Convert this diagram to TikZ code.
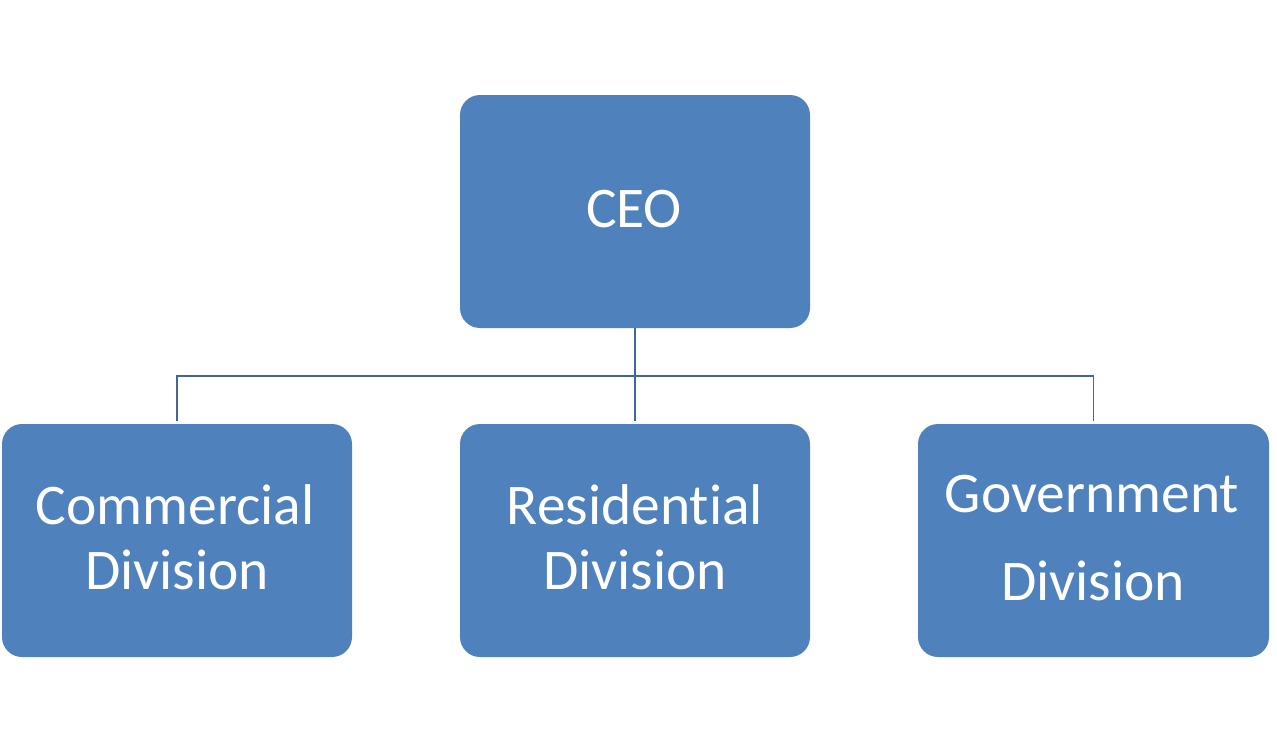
\documentclass[tikz,border=0pt]{standalone}
\usepackage{fontspec}
\setmainfont{Carlito}[Ligatures={NoCommon,NoContextual}]
\definecolor{boxblue}{HTML}{4F81BD}
\definecolor{lineblue}{RGB}{61,103,158}
\begin{document}
\begin{tikzpicture}[x=1pt,y=-1pt,
  orgbox/.style={fill=boxblue,draw=none,rounded corners=20pt,minimum width=350pt,minimum height=233pt,inner sep=0pt},
  lbl/.style={text=white,font=\fontsize{57.5}{60}\selectfont,anchor=base,inner sep=0pt},
  conn/.style={draw=lineblue,line width=1.5pt}]
\useasboundingbox (0,0) rectangle (1277,747);
\node[orgbox] (ceo) at (635,211.5) {};
\node[orgbox] (com) at (177,540.5) {};
\node[orgbox] (res) at (635,540.5) {};
\node[orgbox,minimum width=351pt] (gov) at (1093.5,540.5) {};
\node[lbl] (ceot) at (634,227) {CEO};
\node[lbl] (comt1) at (175,524) {Commercial};
\node[lbl] (comt2) at (177,589) {Division};
\node[lbl] (rest1) at (635,524) {Residential};
\node[lbl] (rest2) at (635,589) {Division};
\node[lbl] (govt1) at (1092,512) {Government};
\node[lbl] (govt2) at (1093,600) {Division};
\coordinate (j) at (635,376);
\draw[conn] (ceo.south) -- ([yshift=3pt]res.north);
\draw[conn] ([yshift=3pt]com.north) |- (j) -| ([yshift=3pt]gov.north);
\end{tikzpicture}
\end{document}
